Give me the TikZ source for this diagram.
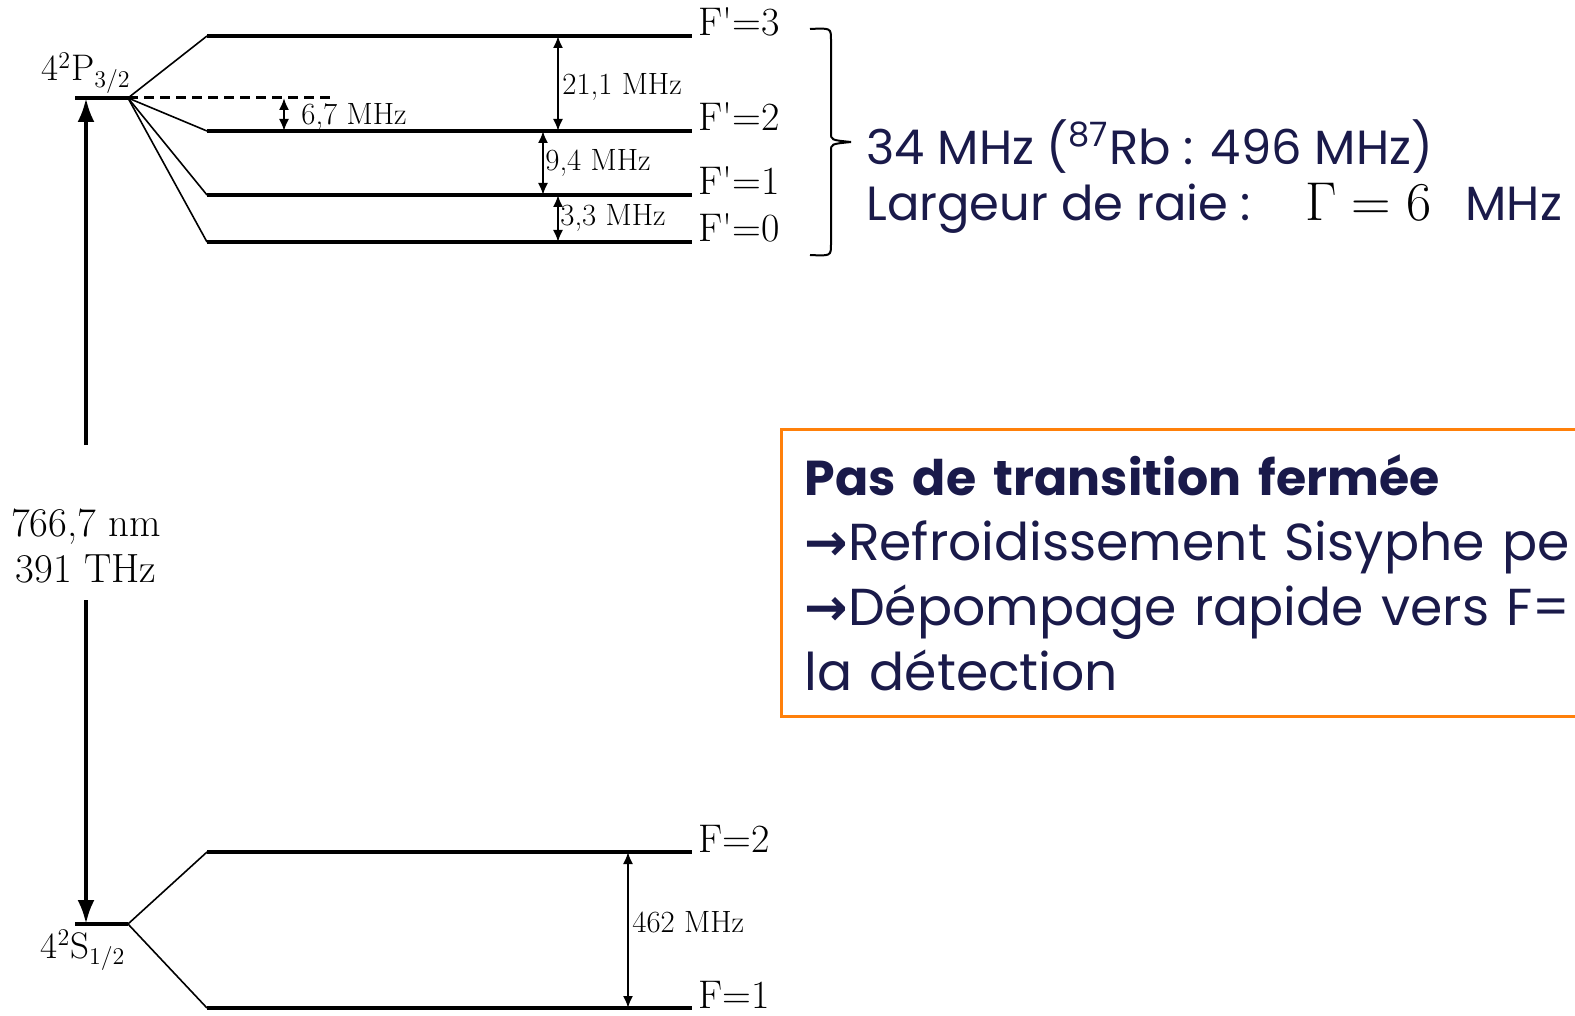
\documentclass[tikz,border=0pt]{standalone}
\usepackage{fontspec}
\usetikzlibrary{arrows.meta}
\newfontfamily\gothic{Poppins}
\newfontfamily\symb{DejaVu Sans}
\definecolor{navy}{RGB}{26,26,74}
\definecolor{boxorange}{RGB}{255,128,10}
\tikzset{
  level/.style={line width=2pt},
  split/.style={line width=0.8pt},
  gap/.style={{Latex[length=6pt,width=5pt]}-{Latex[length=6pt,width=5pt]}, line width=1pt},
  bigarrow/.style={-{Latex[length=12pt,width=8.5pt]}, line width=2pt},
  biglabel/.style={font=\fontsize{18.5}{23}\selectfont, inner sep=0pt},
  smalllabel/.style={font=\fontsize{15.4}{18}\selectfont, inner sep=1pt, anchor=west},
  flabel/.style={font=\fontsize{20}{24}\selectfont, inner sep=0pt, anchor=base west},
  slide/.style={font=\gothic\fontsize{24}{28}\selectfont, text=navy, inner sep=0pt, anchor=west},
}
\begin{document}
\begin{tikzpicture}[x=0.5pt,y=-0.5pt]
\useasboundingbox (0,0) rectangle (1575,1016);

% 4P3/2
\coordinate (Pa) at (75,98);
\coordinate (Pb) at (128,98);
\coordinate (Pd) at (330,98);
\coordinate (e3a) at (207,36);  \coordinate (e3b) at (692,36);
\coordinate (e2a) at (207,131); \coordinate (e2b) at (692,131);
\coordinate (e1a) at (207,195); \coordinate (e1b) at (692,195);
\coordinate (e0a) at (207,242); \coordinate (e0b) at (692,242);

\draw[level] (Pa) -- (Pb);
\draw[level, dash pattern=on 5pt off 3pt, line width=1.5pt] (Pb) -- (Pd);
\draw[level] (e3a) -- (e3b);
\draw[level] (e2a) -- (e2b);
\draw[level] (e1a) -- (e1b);
\draw[level] (e0a) -- (e0b);
\draw[split] (Pb) -- (e3a);
\draw[split] (Pb) -- (e2a);
\draw[split] (Pb) -- (e1a);
\draw[split] (Pb) -- (e0a);

\node[biglabel, anchor=base] (Plab) at (86,81) {4$^2$P$_{3/2}$};

\node[flabel] (F3) at ([xshift=3pt]e3b) {F\textquotesingle{}=3};
\node[flabel] (F2) at ([xshift=3pt]e2b) {F\textquotesingle{}=2};
\node[flabel] (F1) at ([xshift=3pt]e1b) {F\textquotesingle{}=1};
\node[flabel] (F0) at ([xshift=3pt]e0b) {F\textquotesingle{}=0};

\coordinate (g21) at (558,0);
\coordinate (g94) at (543,0);
\coordinate (g33) at (558,0);
\coordinate (g67) at (284,0);
\draw[gap] (e3a -| g21) -- (e2a -| g21);
\draw[gap] (e2a -| g94) -- (e1a -| g94);
\draw[gap] (e1a -| g33) -- (e0a -| g33);
\draw[gap] (Pb -| g67) -- (e2a -| g67);

\node[smalllabel] (l21) at (560,87) {21,1 MHz};
\node[smalllabel] (l94) at (543,163) {9,4 MHz};
\node[smalllabel] (l33) at (558,218) {3,3 MHz};
\node[smalllabel] (l67) at (299,117) {6,7 MHz};

% 4S1/2
\coordinate (Sa) at (75,924);
\coordinate (Sb) at (128,924);
\coordinate (g2a) at (207,852);  \coordinate (g2b) at (692,852);
\coordinate (g1a) at (207,1008); \coordinate (g1b) at (692,1008);

\draw[level] (Sa) -- (Sb);
\draw[level] (g2a) -- (g2b);
\draw[level] (g1a) -- (g1b);
\draw[split] (Sb) -- (g2a);
\draw[split] (Sb) -- (g1a);

\node[biglabel, anchor=base] (Slab) at (83,958) {4$^2$S$_{1/2}$};
\node[flabel] (G2) at ([xshift=3pt]g2b) {F=2};
\node[flabel] (G1) at ([xshift=3pt]g1b) {F=1};

\coordinate (g462) at (628,0);
\draw[gap] (g2a -| g462) -- (g1a -| g462);
\node[smalllabel] (l462) at (630,922) {462 MHz};

% optical transition
\node[biglabel, align=center, font=\fontsize{20.4}{23}\selectfont] (lambda) at (86,546) {766,7 nm\\391 THz};
\coordinate (wtop) at (86,445);
\coordinate (wbot) at (86,600);
\draw[bigarrow] (wtop) -- (Pa -| wtop);
\draw[bigarrow] (wbot) -- (Sa -| wbot);

% brace and comments
\draw[line width=1pt] (810,29) .. controls (831,28) .. (831,40) -- (831,133)
  .. controls (831,140) .. (851,142) .. controls (831,144) .. (831,151)
  -- (831,244) .. controls (831,256) .. (810,255);
\node[slide] (hfs) at (866,147) {34 MHz (\textsuperscript{87}Rb : 496 MHz)};
\node[slide] (gamma) at (866,209) {Largeur de raie :\hspace{27pt}{\color{black}\smash{\scalebox{1.1}{$\Gamma = 6$}}}\hspace{17pt}MHz};

\node[draw=boxorange, line width=1.5pt, anchor=north west, text=navy,
      text width=480pt, minimum height=143.5pt, inner xsep=11.5pt, align=left,
      font=\gothic\fontsize{26}{32.5}\selectfont] (box) at (780,428)
  {{\fontsize{24.5}{32.5}\selectfont\bfseries Pas de transition fermée}\\
   {\symb\bfseries →}Refroidissement Sisyphe pe\\
   {\symb\bfseries →}Dépompage rapide vers F=\\
   la détection};
\end{tikzpicture}
\end{document}
